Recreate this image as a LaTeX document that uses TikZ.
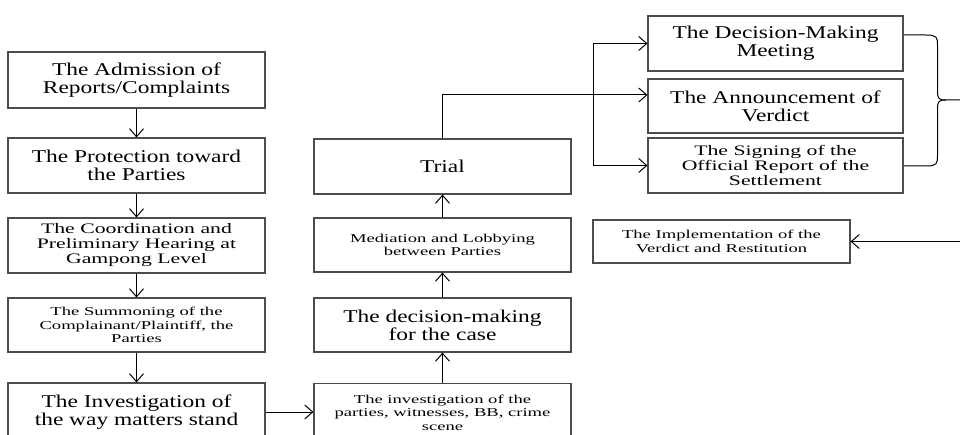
\documentclass[tikz,border=0pt]{standalone}
\usepackage{fontspec}
\setmainfont{Liberation Serif}
\newfontfamily\wideA[FakeStretch=1.3]{Liberation Serif}
\newfontfamily\wideB[FakeStretch=1.5]{Liberation Serif}
\newfontfamily\wideC[FakeStretch=1.55]{Liberation Serif}
\usetikzlibrary{arrows.meta}
\tikzset{
  box/.style={draw=black!70, line width=1.1pt, align=center, inner sep=0pt, minimum width=257pt, text=black},
  fA/.style={font=\wideA\fontsize{18}{18}\selectfont},
  fB/.style={font=\wideB\fontsize{14.5}{15}\selectfont},
  fC/.style={font=\wideC\fontsize{12}{13.5}\selectfont},
  conn/.style={draw=black, line width=1pt},
  arr/.style={conn, -{Straight Barb[length=8pt,width=14pt,line width=1pt]}},
}
\begin{document}
\begin{tikzpicture}[x=1pt,y=-1pt]
\useasboundingbox (0,0) rectangle (960,435);
\clip (0,0) rectangle (960,435);
\fill[white] (0,0) rectangle (960,435);
% left column
\node[box,fA,minimum height=56pt] (l1) at (136.5,80) {The Admission of\\Reports/Complaints};
\node[box,fA,minimum height=55pt] (l2) at (136.5,165.5) {The Protection toward\\the Parties};
\node[box,fB,minimum height=55pt] (l3) at (136.5,245.5) {The Coordination and\\Preliminary Hearing at\\Gampong Level};
\node[box,fC,minimum height=54pt] (l4) at (136.5,325) {The Summoning of the\\Complainant/Plaintiff, the\\Parties};
\node[box,fA,minimum height=58pt] (l5) at (136.5,412) {The Investigation of\\the way matters stand};
% middle column
\node[box,fA,minimum height=55pt] (trial) at (442.5,166.5) {Trial};
\node[box,fC,minimum height=54pt] (med) at (442.5,245) {Mediation and Lobbying\\between Parties};
\node[box,fA,minimum height=54pt] (dec) at (442.5,325) {The decision-making\\for the case};
\node[box,fC,minimum height=58pt] (inv) at (442.5,412.5) {The investigation of the\\parties, witnesses, BB, crime\\scene};
% right column
\node[box,fA,minimum width=255pt,minimum height=55pt] (r1) at (775.5,43.5) {The Decision-Making\\Meeting};
\node[box,fA,minimum width=255pt,minimum height=54pt] (r2) at (775.5,106) {The Announcement of\\Verdict};
\node[box,fB,minimum width=255pt,minimum height=55pt] (r3) at (775.5,165.5) {The Signing of the\\Official Report of the\\Settlement};
\node[box,fC,minimum height=43pt] (impl) at (721.5,241.5) {The Implementation of the\\Verdict and Restitution};
% left arrows
\draw[arr] (l1) -- (l2);
\draw[arr] (l2) -- (l3);
\draw[arr] (l3) -- (l4);
\draw[arr] (l4) -- (l5);
\draw[arr] (l5.east |- 0,412) -- (inv.west |- 0,412);
% middle arrows
\draw[arr] (inv) -- (dec);
\draw[arr] (dec) -- (med);
\draw[arr] (med) -- (trial);
% trial to right column
\coordinate (j) at (593,95);
\coordinate (jt) at (593,43.5);
\coordinate (jb) at (593,165.5);
\draw[conn] (trial.north) |- (j);
\draw[conn] (jt) -- (jb);
\draw[arr] (j) -- (r2.west |- j);
\draw[arr] (jt) -- (r1.west);
\draw[arr] (jb) -- (r3.west);
% brace
\coordinate (bt) at (904,35);
\coordinate (bb) at (904,166);
\coordinate (bx) at (960,100);
\draw[conn] (bt) -- (926,35) .. controls (937,35) and (937.5,37) .. (937.5,46) -- (937.5,91)
  .. controls (937.5,99) and (939,100) .. (946,100) -- (bx);
\draw[conn] (bb) -- (926,166) .. controls (937,166) and (937.5,164) .. (937.5,155) -- (937.5,109)
  .. controls (937.5,101) and (939,100) .. (946,100);
% arrow to implementation
\coordinate (re) at (960,241.5);
\draw[arr] (re) -- (impl.east);
\end{tikzpicture}
\end{document}
